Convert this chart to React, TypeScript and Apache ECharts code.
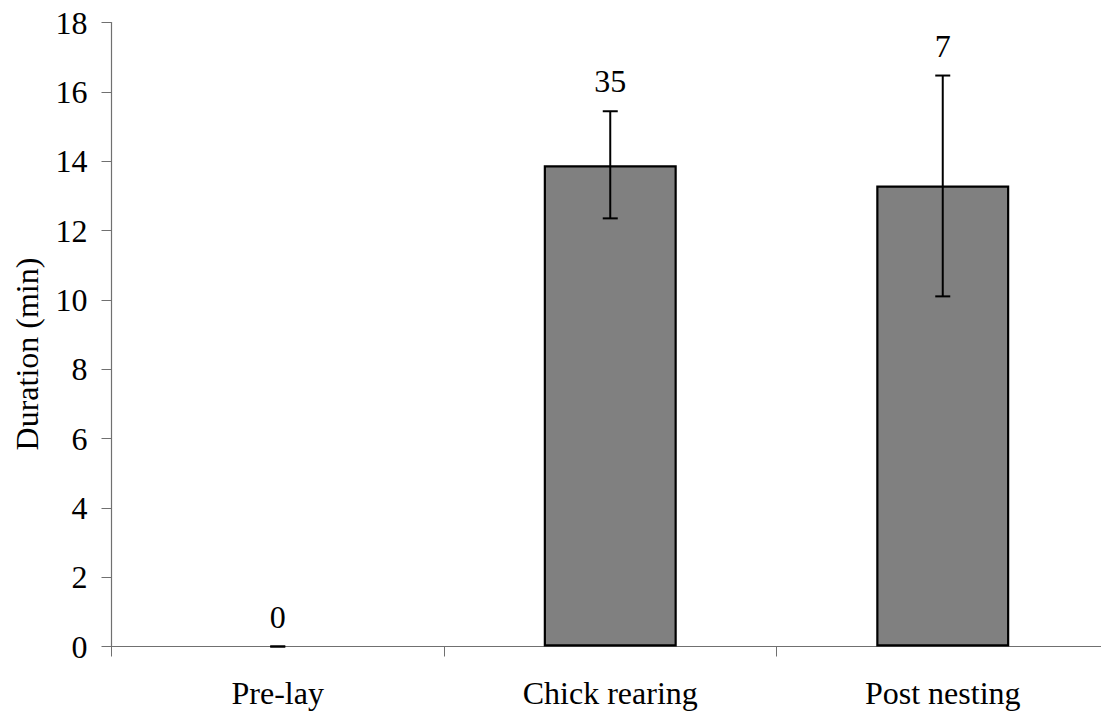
import React, { useEffect, useRef } from "react";
import * as echarts from "echarts";

const categories = ["Pre-lay", "Chick rearing", "Post nesting"];
const means = [0, 13.88, 13.3];
const errLow = [0, 12.35, 10.1];
const errHigh = [0, 15.44, 16.47];
const sampleSizes = ["0", "35", "7"];
const yTicks = { min: 0, max: 18, interval: 2 };

const FONT = "'Liberation Serif', 'Times New Roman', serif";
const FS = 32;

export default function App() {
  const ref = useRef<HTMLDivElement>(null);
  useEffect(() => {
    if (!ref.current) return;
    const chart = echarts.init(ref.current, null, { renderer: "svg" });
    const errData = categories.map((_, i) => [i, errLow[i], errHigh[i], sampleSizes[i]]);
    chart.setOption({
      animation: false,
      backgroundColor: "#ffffff",
      grid: {
        left: 111.5,
        width: 997.5,
        top: 22.5,
        height: 624,
        containLabel: false,
        outerBoundsMode: "none",
      },
      xAxis: {
        type: "category",
        data: categories,
        boundaryGap: true,
        axisLine: { show: true, lineStyle: { color: "#707070", width: 1 } },
        axisTick: { show: true, length: 10, alignWithLabel: false, lineStyle: { color: "#707070", width: 1 } },
        axisLabel: { color: "#000", fontFamily: FONT, fontSize: FS, margin: 30, interval: 0 },
        splitLine: { show: false },
      },
      yAxis: {
        type: "value",
        min: yTicks.min,
        max: yTicks.max,
        interval: yTicks.interval,
        axisLine: { show: true, lineStyle: { color: "#707070", width: 1.2 } },
        axisTick: { show: true, length: 10, lineStyle: { color: "#707070", width: 1 } },
        axisLabel: { color: "#000", fontFamily: FONT, fontSize: FS, margin: 24 },
        splitLine: { show: false },
      },
      graphic: [
        {
          type: "text",
          x: 27,
          y: 354,
          rotation: Math.PI / 2,
          style: {
            text: "Duration (min)",
            fill: "#000",
            font: `${FS}px ${FONT}`,
            align: "center",
            verticalAlign: "middle",
          },
        },
      ],
      series: [
        {
          type: "bar",
          barWidth: "40%",
          data: means.map((v) => (v === 0 ? { value: v, itemStyle: { borderWidth: 0 } } : v)),
          itemStyle: { color: "#808080", borderColor: "#000", borderWidth: 2.2 },
          z: 2,
        },
        {
          type: "custom",
          z: 5,
          data: errData,
          renderItem: (params: any, api: any) => {
            const x = api.value(0);
            const lo = api.coord([x, api.value(1)]);
            const hi = api.coord([x, api.value(2)]);
            const label = sampleSizes[params.dataIndex];
            const hw = 7.5;
            const st = { stroke: "#000", lineWidth: 2 };
            return {
              type: "group",
              children: [
                { type: "line", shape: { x1: hi[0], y1: hi[1], x2: lo[0], y2: lo[1] }, style: st },
                { type: "line", shape: { x1: hi[0] - hw, y1: hi[1], x2: hi[0] + hw, y2: hi[1] }, style: st },
                { type: "line", shape: { x1: lo[0] - hw, y1: lo[1], x2: lo[0] + hw, y2: lo[1] }, style: st },
                {
                  type: "text",
                  x: hi[0],
                  y: hi[1] - 30,
                  style: {
                    text: label,
                    fill: "#000",
                    font: `${FS}px ${FONT}`,
                    align: "center",
                    verticalAlign: "middle",
                  },
                },
              ],
            };
          },
        },
      ],
    });
    return () => chart.dispose();
  }, []);
  return (
    <div
      ref={ref}
      style={{ position: "fixed", left: 0, top: 0, width: 1101, height: 715, background: "#fff" }}
    />
  );
}
